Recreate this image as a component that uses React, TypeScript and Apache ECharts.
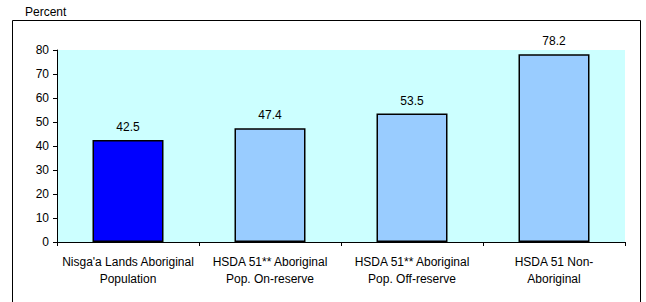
import React, { useEffect, useRef } from "react";
import * as echarts from "echarts";

const categories = [
  "Nisga'a Lands Aboriginal\nPopulation",
  "HSDA 51** Aboriginal\nPop. On-reserve",
  "HSDA 51** Aboriginal\nPop. Off-reserve",
  "HSDA 51 Non-\nAboriginal",
];
const values = [42.5, 47.4, 53.5, 78.2];
const barColors = ["#0000FF", "#99CCFF", "#99CCFF", "#99CCFF"];
const yTicks = { min: 0, max: 80, interval: 10 };

export default function App() {
  const ref = useRef<HTMLDivElement>(null);
  useEffect(() => {
    if (!ref.current) return;
    const chart = echarts.init(ref.current, null, { renderer: "svg" });
    const font = "Liberation Sans, Arial, sans-serif";
    chart.setOption({
      animation: false,
      backgroundColor: "#FFFFFF",
      graphic: [
        {
          type: "rect",
          shape: { x: 12.5, y: 20.5, width: 628, height: 300 },
          style: { fill: "none", stroke: "#000", lineWidth: 1 },
          z: 0,
        },
        {
          type: "text",
          left: 25,
          top: 6,
          style: { text: "Percent", fontSize: 12, fontFamily: font, fill: "#000" },
        },
      ],
      grid: { left: 57, right: 21, top: 50, bottom: 60, backgroundColor: "#CCFFFF", show: true, borderWidth: 0 },
      xAxis: {
        type: "category",
        data: categories,
        axisLine: { lineStyle: { color: "#000", width: 1 } },
        axisTick: { show: true, length: 4, lineStyle: { color: "#000" } },
        axisLabel: { color: "#000", fontSize: 12, fontFamily: font, lineHeight: 17, margin: 11, interval: 0 },
      },
      yAxis: {
        type: "value",
        min: yTicks.min,
        max: yTicks.max,
        interval: yTicks.interval,
        splitLine: { show: false },
        axisLine: { show: true, lineStyle: { color: "#000", width: 1 } },
        axisTick: { show: true, length: 4, lineStyle: { color: "#000" } },
        axisLabel: { color: "#000", fontSize: 12, fontFamily: font, margin: 8 },
      },
      series: [
        {
          type: "bar",
          barWidth: "50%",
          data: values.map((v, i) => ({
            value: v,
            itemStyle: { color: barColors[i], borderColor: "#000", borderWidth: 1.5 },
          })),
          label: {
            show: true,
            position: "top",
            distance: 7,
            color: "#000",
            fontSize: 12,
            fontFamily: font,
          },
        },
      ],
    });
    return () => chart.dispose();
  }, []);
  return <div ref={ref} style={{ position: "absolute", left: 0, top: 0, width: 646, height: 302 }} />;
}
